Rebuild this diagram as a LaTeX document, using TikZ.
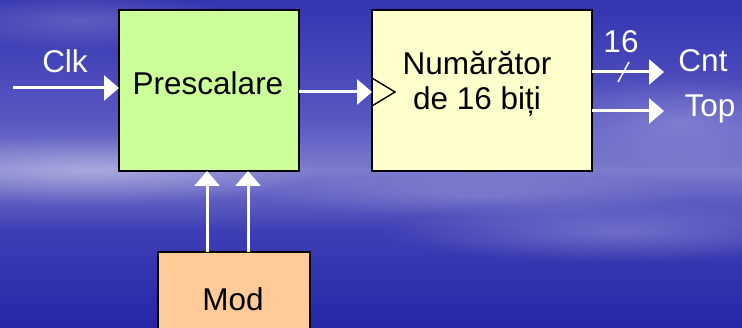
\documentclass[tikz,border=0pt]{standalone}
\usepackage{fontspec}
\setmainfont{Liberation Sans}
\usetikzlibrary{arrows.meta,fadings}

\definecolor{skyA}{HTML}{3434B0}
\definecolor{skyB}{HTML}{4242B8}
\definecolor{skyC}{HTML}{5858C2}
\definecolor{skyD}{HTML}{7C7CCC}
\definecolor{skyE}{HTML}{3E3EB6}
\definecolor{skyF}{HTML}{2626A6}
\definecolor{preFill}{HTML}{CCFF99}
\definecolor{cntFill}{HTML}{FFFFCC}
\definecolor{modFill}{HTML}{FFCC99}

\tikzfading[name=softglow, inner color=transparent!0, outer color=transparent!100]

\tikzset{
  block/.style={draw=black, line width=2pt, inner sep=0pt, outer sep=0pt},
  lbl/.style={font=\fontsize{31.5}{35}\selectfont, inner sep=0pt, anchor=base},
  sig/.style={draw=white, line width=3pt, -{Triangle[length=15pt,width=25pt]}},
  haze/.style={white, path fading=softglow}
}

\begin{document}
\begin{tikzpicture}[x=1pt,y=-1pt]
  \useasboundingbox (0,0) rectangle (742,328);

  % sky background in horizontal bands
  \shade[top color=skyA, bottom color=skyB] (0,0) rectangle (742,50.5);
  \shade[top color=skyB, bottom color=skyC] (0,50) rectangle (742,120.5);
  \shade[top color=skyC, bottom color=skyD] (0,120) rectangle (742,170.5);
  \shade[top color=skyD, bottom color=skyE] (0,170) rectangle (742,230.5);
  \shade[top color=skyE, bottom color=skyF] (0,230) rectangle (742,328);

  % soft cloud streaks
  \fill[haze, opacity=0.35] (90,170) ellipse (230 and 35);
  \fill[haze, opacity=0.25] (620,232) ellipse (240 and 30);
  \fill[haze, opacity=0.22] (680,120) ellipse (160 and 45);
  \fill[haze, opacity=0.18] (80,20) ellipse (160 and 30);
  \fill[haze, opacity=0.15] (480,195) ellipse (220 and 22);

  % blocks
  \node[block, fill=preFill, minimum width=180pt, minimum height=161pt]
    (pre) at (209,90.5) {};
  \node[block, fill=cntFill, minimum width=220pt, minimum height=161pt]
    (cnt) at (482,90.5) {};
  \node[block, fill=modFill, minimum width=152pt, minimum height=100pt]
    (mod) at (234,302) {};

  % block texts
  \node[lbl] (preT) at (208,95) {Prescalare};
  \node[lbl] (cntT1) at (477,75) {Numărător};
  \node[lbl] (cntT2) at (477,110) {de 16 biți};
  \node[lbl] (modT) at (233,311) {Mod};

  % clock input marker of the counter
  \coordinate (ck) at (372,92);
  \draw[line width=1.4pt, line join=miter] ([yshift=-14pt]ck) -- ([xshift=23pt]ck) -- ([yshift=14pt]ck);

  % signals
  \coordinate (clkin) at (13,88);
  \draw[sig] (clkin) -- (clkin -| pre.west);
  \node[lbl, text=white] (clkT) at (65,73) {Clk};

  \coordinate (pout) at (299,92);
  \draw[sig] (pout) -- (pout -| cnt.west);

  \coordinate (m1) at (207,252);
  \coordinate (m2) at (248,252);
  \draw[sig] (m1) -- (m1 |- pre.south);
  \draw[sig] (m2) -- (m2 |- pre.south);

  \coordinate (cntout) at (592,72);
  \coordinate (cntend) at (664,72);
  \coordinate (topout) at (592,111);
  \coordinate (topend) at (664,111);
  \draw[sig] (cntout) -- (cntend);
  \draw[sig] (topout) -- (topend);
  \draw[white, line width=1.5pt] (618,82) -- (629,62);
  \node[lbl, text=white] (busT) at (621,53) {16};
  \node[lbl, text=white] (cntO) at (703,72) {Cnt};
  \node[lbl, text=white] (topO) at (710,117) {Top};
\end{tikzpicture}
\end{document}
